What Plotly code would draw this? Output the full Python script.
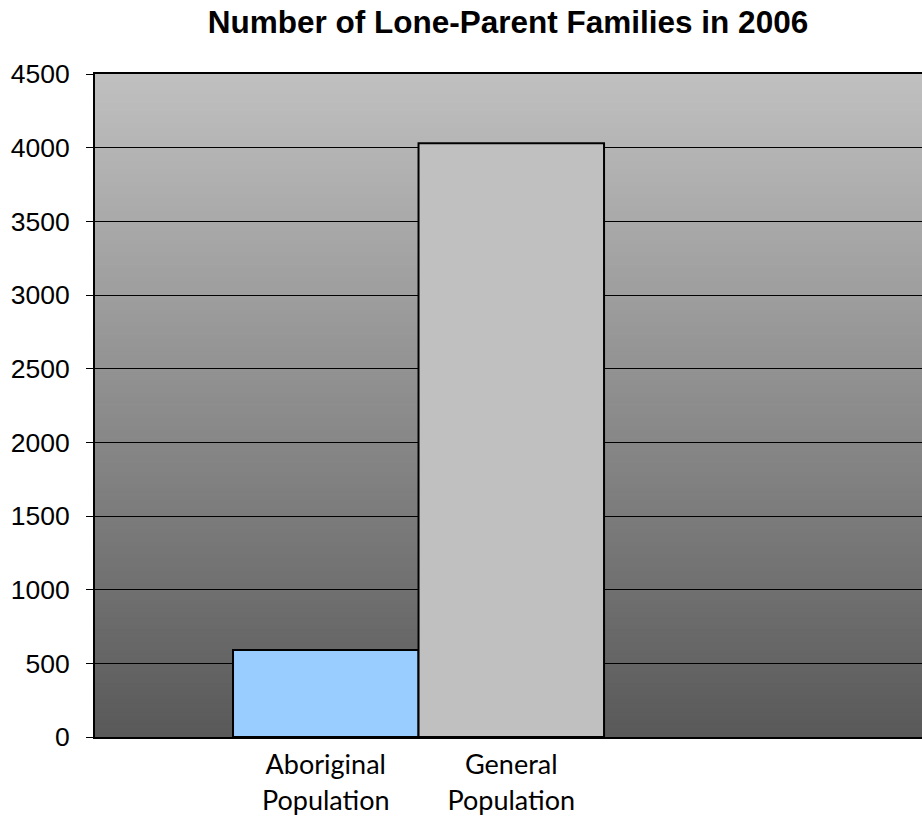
import plotly.graph_objects as go

categories = ["Aboriginal<br>Population", "General<br>Population"]
values = [590, 4030]
bar_colors = ["#99ccff", "#c0c0c0"]
y_ticks = [0, 500, 1000, 1500, 2000, 2500, 3000, 3500, 4000, 4500]

fig = go.Figure()
fig.add_trace(go.Bar(
    x=[0, 1], y=values, width=1,
    marker=dict(color=bar_colors, line=dict(color="black", width=2)),
    hoverinfo="skip",
))

# vertical gradient background (light top -> dark bottom)
n = 160
top, bot = 192, 89
for i in range(n):
    f = (i + 0.5) / n
    c = round(bot + (top - bot) * f)
    fig.add_shape(type="rect", xref="x domain", yref="y domain",
                  x0=0, x1=1, y0=i / n, y1=(i + 1) / n + 0.002,
                  fillcolor=f"rgb({c},{c},{c})", line=dict(width=0), layer="below")

fig.update_layout(
    width=922, height=816,
    margin=dict(l=95, r=0, t=74, b=74),
    paper_bgcolor="white", plot_bgcolor="white",
    showlegend=False,
    bargap=0,
    title=dict(text="<b>Number of Lone-Parent Families in 2006</b>",
               x=508 / 922, xanchor="center", y=1 - 22 / 816, yanchor="middle",
               font=dict(family="Liberation Sans, Arial", size=31.5, color="black")),
    font=dict(family="Liberation Sans, Arial", color="black"),
)
fig.update_xaxes(range=[-1.244, 3.214], tickvals=[0, 1], ticktext=categories,
                 tickfont=dict(family="Lato, Carlito, sans-serif", size=27, color="black"),
                 showgrid=False, zeroline=False, showline=True, linecolor="black",
                 linewidth=2, mirror=True, ticks="", ticklabelstandoff=3)
fig.update_yaxes(range=[0, 4500], tickvals=y_ticks, showgrid=True, gridcolor="black",
                 gridwidth=1, zeroline=False, showline=True, linecolor="black",
                 linewidth=2, ticks="outside", ticklen=7, tickcolor="black",
                 ticklabelstandoff=11,
                 tickfont=dict(size=26.5, color="black"))

fig.write_html(
    "out.html",
    config={"displayModeBar": False, "staticPlot": True},
    post_script=(
        "document.documentElement.style.margin='0';"
        "document.documentElement.style.overflow='hidden';"
        "document.body.style.margin='0';"
        "document.body.style.overflow='hidden';"
    ),
)
